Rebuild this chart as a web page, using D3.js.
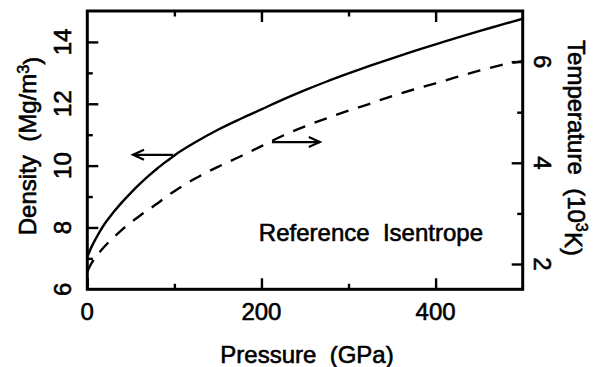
<!DOCTYPE html>
<html>
<head>
<meta charset="utf-8">
<script src="https://cdn.jsdelivr.net/npm/d3@7"></script>
<style>
  html, body { margin: 0; padding: 0; background: #fff; }
  svg { display: block; }
  text { font-family: "Liberation Sans", Arial, sans-serif; fill: #000; stroke: #000; stroke-width: 0.6px; white-space: pre; }
</style>
</head>
<body>
<svg id="chart" width="605" height="367"></svg>
<script>
// ---- data ----
const pressure = [0, 5, 10, 15, 20, 30, 40, 50, 60, 70, 80, 90, 100, 125, 150, 175, 200, 225, 250, 275, 300, 325, 350, 375, 400, 425, 450, 475, 500];
const density  = [7.05, 7.38, 7.65, 7.90, 8.12, 8.49, 8.82, 9.12, 9.40, 9.66, 9.90, 10.12, 10.33, 10.77, 11.16, 11.50, 11.82, 12.14, 12.44, 12.72, 12.98, 13.23, 13.47, 13.70, 13.92, 14.14, 14.35, 14.55, 14.75];
const temperature = [1.85, 2.02, 2.14, 2.25, 2.35, 2.52, 2.68, 2.82, 2.95, 3.07, 3.19, 3.32, 3.44, 3.70, 3.92, 4.12, 4.33, 4.54, 4.72, 4.88, 5.03, 5.17, 5.32, 5.45, 5.57, 5.70, 5.82, 5.93, 6.01];

const xMajorTicks = [0, 200, 400];
const xMinorTicks = [100, 300];
const leftMajorTicks = [6, 8, 10, 12, 14];
const leftMinorTicks = [7, 9, 11, 13];
const rightMajorTicks = [2, 4, 6];
const rightMinorTicks = [3, 5];

const xTitle = "Pressure  (GPa)";
const annotationText = "Reference  Isentrope";
// arrows: [x0, y0, x1, y1] in data units (left arrow in density units, right in temperature units)
const leftArrow = [98.5, 10.35, 52.5, 10.35];
const rightArrow = [212, 4.41, 267, 4.41];
const labelPos = [197, 7.56];

// ---- layout ----
const svg = d3.select("#chart");
const X0 = 87.3, X1 = 522.7, Y0 = 289.3, Y1 = 11;
const x = d3.scaleLinear().domain([0, 500]).range([X0, X1]);
const yL = d3.scaleLinear().domain([6, 15]).range([Y0, Y1]);
const yR = d3.scaleLinear().domain([1.5, 7]).range([Y0, Y1]);

const FS = 24;
const MAJ = 11, MIN = 5.5;

function styleAxis(g) {
  g.select(".domain").remove();
  g.selectAll(".tick line").attr("stroke", "#000").attr("stroke-width", 2.4);
  g.selectAll("text").remove();
}

// bottom
svg.append("g").attr("transform", `translate(0,${Y0})`)
  .call(d3.axisBottom(x).tickValues(xMajorTicks).tickSize(-MAJ)).call(styleAxis);
svg.append("g").attr("transform", `translate(0,${Y0})`)
  .call(d3.axisBottom(x).tickValues(xMinorTicks).tickSize(-MIN)).call(styleAxis);
// top
svg.append("g").attr("transform", `translate(0,${Y1})`)
  .call(d3.axisTop(x).tickValues(xMajorTicks.slice(1)).tickSize(-MAJ)).call(styleAxis);
svg.append("g").attr("transform", `translate(0,${Y1})`)
  .call(d3.axisTop(x).tickValues(xMinorTicks).tickSize(-MIN)).call(styleAxis);
// left
svg.append("g").attr("transform", `translate(${X0},0)`)
  .call(d3.axisLeft(yL).tickValues(leftMajorTicks.slice(1)).tickSize(-MAJ)).call(styleAxis);
svg.append("g").attr("transform", `translate(${X0},0)`)
  .call(d3.axisLeft(yL).tickValues(leftMinorTicks).tickSize(-MIN)).call(styleAxis);
// right
svg.append("g").attr("transform", `translate(${X1},0)`)
  .call(d3.axisRight(yR).tickValues(rightMajorTicks).tickSize(-MAJ)).call(styleAxis);
svg.append("g").attr("transform", `translate(${X1},0)`)
  .call(d3.axisRight(yR).tickValues(rightMinorTicks).tickSize(-MIN)).call(styleAxis);

// frame
svg.append("rect").attr("x", X0).attr("y", Y1).attr("width", X1 - X0).attr("height", Y0 - Y1)
  .attr("fill", "none").attr("stroke", "#000").attr("stroke-width", 3);

// tick labels
svg.append("g").selectAll("text").data(xMajorTicks).join("text")
  .attr("x", d => x(d)).attr("y", 320).attr("text-anchor", "middle")
  .attr("font-size", FS).text(d => d);
svg.append("g").selectAll("text").data(leftMajorTicks).join("text")
  .attr("transform", d => `translate(62,${yL(d)}) rotate(-90)`)
  .attr("text-anchor", "middle").attr("dy", "0.36em")
  .attr("font-size", FS).text(d => d);
svg.append("g").selectAll("text").data(rightMajorTicks).join("text")
  .attr("transform", d => `translate(543,${yR(d)}) rotate(90)`)
  .attr("text-anchor", "middle").attr("dy", "0.36em")
  .attr("font-size", FS).text(d => d);

// axis titles
svg.append("text").attr("x", (X0 + X1) / 2 + 2).attr("y", 363)
  .attr("text-anchor", "middle").attr("font-size", FS).text(xTitle);

const lt = svg.append("text").attr("transform", "translate(27.5,146) rotate(-90)")
  .attr("text-anchor", "middle").attr("dy", "0.36em").attr("font-size", FS);
lt.append("tspan").text("Density  (Mg/m");
lt.append("tspan").attr("dy", "-0.45em").attr("font-size", FS * 0.68).text("3");
lt.append("tspan").attr("dy", "0.45em").text(")");

const rt = svg.append("text").attr("transform", "translate(577,148) rotate(90)")
  .attr("text-anchor", "middle").attr("dy", "0.36em").attr("font-size", FS);
rt.append("tspan").text("Temperature  (10");
rt.append("tspan").attr("dy", "-0.45em").attr("font-size", FS * 0.68).text("3");
rt.append("tspan").attr("dy", "0.45em").text("K)");

// curves
const solidLine = d3.line().x((d, i) => x(pressure[i])).y(d => yL(d)).curve(d3.curveMonotoneX);
const dashLine = d3.line().x((d, i) => x(pressure[i])).y(d => yR(d)).curve(d3.curveMonotoneX);

svg.append("path").datum(density).attr("d", solidLine)
  .attr("fill", "none").attr("stroke", "#000").attr("stroke-width", 2.4);
svg.append("path").datum(temperature).attr("d", dashLine)
  .attr("fill", "none").attr("stroke", "#000").attr("stroke-width", 2.4)
  .attr("stroke-dasharray", "13,10");

// arrows
function arrow(a, ys) {
  const x0 = x(a[0]), y0 = ys(a[1]), x1 = x(a[2]), y1 = ys(a[3]);
  const dir = Math.sign(x1 - x0);
  svg.append("line").attr("x1", x0).attr("y1", y0).attr("x2", x1).attr("y2", y1)
    .attr("stroke", "#000").attr("stroke-width", 2.2);
  svg.append("path")
    .attr("d", `M${x1 - dir * 11},${y1 - 5}L${x1},${y1}L${x1 - dir * 11},${y1 + 5}`)
    .attr("fill", "none").attr("stroke", "#000").attr("stroke-width", 2.2);
}
arrow(leftArrow, yL);
arrow(rightArrow, yR);

// annotation
svg.append("text").attr("x", x(labelPos[0])).attr("y", yL(labelPos[1]))
  .attr("font-size", FS).text(annotationText);
</script>
</body>
</html>
